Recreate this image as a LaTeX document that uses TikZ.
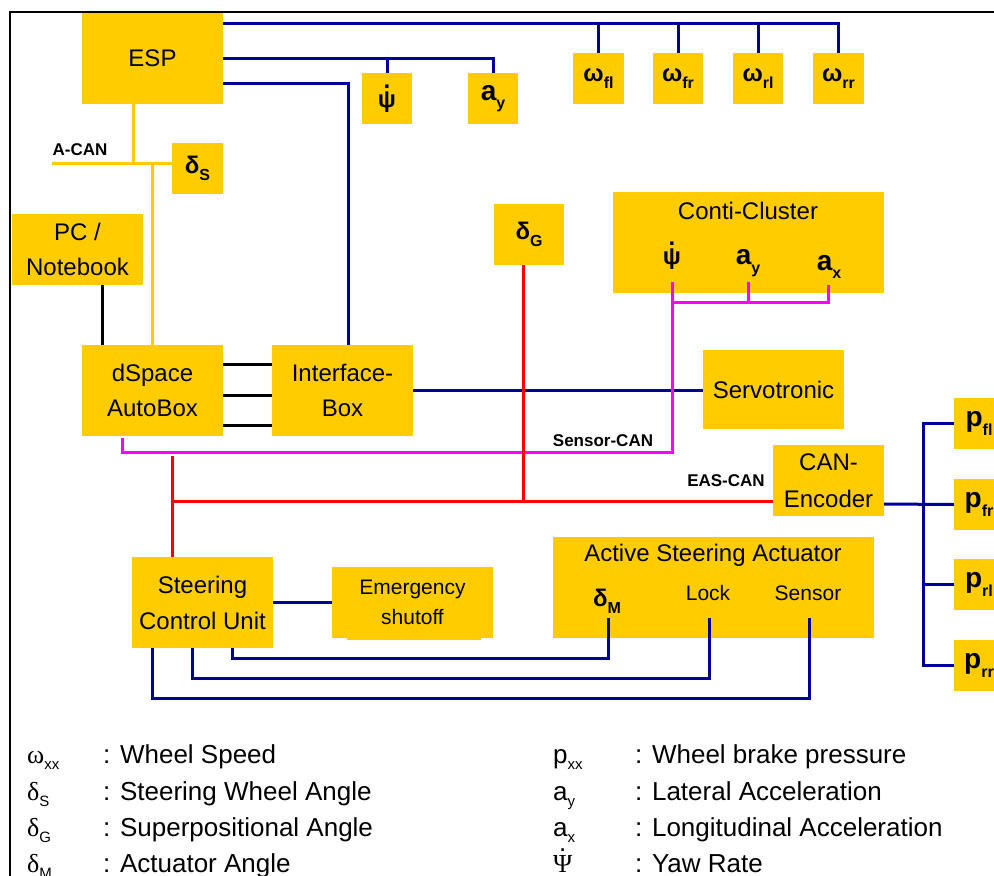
\documentclass[tikz,border=0pt]{standalone}
\usepackage{fontspec}
\setmainfont{Liberation Sans}
\newfontfamily\grserif{Liberation Serif}
\usetikzlibrary{calc}
\definecolor{ybox}{HTML}{FFCC00}
\definecolor{navy}{HTML}{000099}
\definecolor{magc}{HTML}{FF00FF}
\definecolor{redc}{HTML}{FF0000}
\newcommand{\withdot}[1]{\leavevmode\setbox0=\hbox{#1}\rlap{\hbox to\wd0{\hss\raisebox{\dimexpr\ht0+3pt\relax}{.}\hss}}\box0}
\newcommand{\lsub}[1]{\raisebox{-0.3em}{\fontsize{16}{16}\selectfont #1}}
\newcommand{\lsubl}[1]{\raisebox{-0.25em}{\fontsize{15}{15}\selectfont #1}}
\tikzset{
  box/.style={fill=ybox, draw=none, inner sep=0pt, align=center, font=\fontsize{24}{35}\selectfont},
  sym/.style={box, font=\fontsize{24}{26}\selectfont\bfseries},
  symL/.style={box, font=\fontsize{28}{30}\selectfont\bfseries},
  lbl/.style={inner sep=0pt, align=center, font=\fontsize{24}{35}\selectfont},
  buslbl/.style={inner sep=0pt, font=\fontsize{17}{20}\selectfont\bfseries},
  leg/.style={inner sep=0pt, anchor=base west, font=\fontsize{26}{30}\selectfont},
  nline/.style={draw=navy, line width=3pt},
  rline/.style={draw=redc, line width=3pt},
  mline/.style={draw=magc, line width=3pt},
  yline/.style={draw=ybox, line width=3pt},
  kline/.style={draw=black, line width=3pt},
}
\begin{document}
\begin{tikzpicture}[x=1pt,y=-1pt]
\useasboundingbox (0,0) rectangle (994,876);
\clip (0,0) rectangle (994,876);
\fill[white] (0,0) rectangle (994,876);
\draw[line width=2.4pt] (10,890) -- (10,12) -- (1000,12);

% boxes
\node[box, minimum width=141pt, minimum height=91pt] (esp) at (152.5,58.5) {ESP};
\node[sym, minimum width=50pt, minimum height=51pt] (psiA) at (387,98.5) {\withdot{ψ}};
\node[symL, minimum width=50pt, minimum height=51pt] (ayA) at (493,98.5) {a\lsub{y}};
\node[sym, minimum width=51pt, minimum height=51pt] (wfl) at (598.5,78.5) {ω\lsub{fl}};
\node[sym, minimum width=50pt, minimum height=51pt] (wfr) at (678,78.5) {ω\lsub{fr}};
\node[sym, minimum width=50pt, minimum height=51pt] (wrl) at (758,78.5) {ω\lsub{rl}};
\node[sym, minimum width=51pt, minimum height=51pt] (wrr) at (838.5,78.5) {ω\lsub{rr}};
\node[sym, minimum width=51pt, minimum height=51pt] (dS) at (197.5,168.5) {δ\lsub{S}};
\node[box, minimum width=131pt, minimum height=71pt] (pc) at (77.5,249.5) {PC /\\Notebook};
\node[sym, minimum width=70pt, minimum height=61pt] (dG) at (529,234.5) {δ\lsub{G}};
\node[box, minimum width=271pt, minimum height=101pt] (conti) at (748.5,242.5) {};
\node[lbl] (contiT) at (748,211) {Conti-Cluster};
\node[lbl, font=\fontsize{24}{26}\selectfont\bfseries] (cpsi) at (672,256) {\withdot{ψ}};
\node[lbl, font=\fontsize{28}{30}\selectfont\bfseries] (cay) at (748,263) {a\lsub{y}};
\node[lbl, font=\fontsize{28}{30}\selectfont\bfseries] (cax) at (829,267) {a\lsub{x}};
\node[box, minimum width=141pt, minimum height=91pt] (dspace) at (152.5,390.5) {dSpace\\AutoBox};
\node[box, minimum width=141pt, minimum height=91pt] (iface) at (342.5,390.5) {Interface-\\Box};
\node[box, minimum width=141pt, minimum height=79pt] (servo) at (773.5,389.5) {Servotronic};
\node[box, minimum width=111pt, minimum height=71pt, font=\fontsize{24}{37}\selectfont] (canenc) at (828.5,480.5) {CAN-\\Encoder};
\node[symL, minimum width=50pt, minimum height=51pt] (pfl) at (979,423.5) {p\lsub{fl}};
\node[symL, minimum width=50pt, minimum height=51pt] (pfr) at (979,504.5) {p\lsub{fr}};
\node[symL, minimum width=50pt, minimum height=51pt] (prl) at (979,584.5) {p\lsub{rl}};
\node[symL, minimum width=50pt, minimum height=51pt] (prr) at (979,665.5) {p\lsub{rr}};
\node[box, minimum width=141pt, minimum height=91pt, font=\fontsize{24}{36}\selectfont] (scu) at (202.5,602.5) {Steering\\Control Unit};
\fill[ybox] (347,600) rectangle (481,640);
\node[box, minimum width=161pt, minimum height=71pt, font=\fontsize{21}{30}\selectfont] (emer) at (412.5,602.5) {Emergency\\shutoff};
\node[box, minimum width=321pt, minimum height=101pt] (asa) at (713.5,587.5) {};
\node[lbl] (asaT) at (713,555) {Active Steering Actuator};
\node[lbl, font=\fontsize{24}{26}\selectfont\bfseries] (dM) at (607,601) {δ\lsub{M}};
\node[lbl, font=\fontsize{21}{24}\selectfont] (lock) at (708,593) {Lock};
\node[lbl, font=\fontsize{21}{24}\selectfont] (sens) at (808,593) {Sensor};

% bus labels
\node[buslbl] (acan) at (80,150) {A-CAN};
\node[buslbl] (scan) at (603,441) {Sensor-CAN};
\node[buslbl] (ecan) at (726,481) {EAS-CAN};

% coordinates
\coordinate (tpsi) at (672,282);
\coordinate (tay) at (748,282);
\coordinate (tax) at (828,285);
\coordinate (sbus) at (672,452);
\coordinate (pbus) at (923,504);
\coordinate (tdm) at (608,618);
\coordinate (tlock) at (709,618);
\coordinate (tsens) at (809,618);

% yellow A-CAN
\draw[yline] (esp.south -| 133,0) -- (133,163);
\draw[yline] (52,163) -- (dS.west |- 0,163);
\draw[yline] (152,163) -- (dspace.north -| 152,0);

% black
\draw[kline] (pc.south -| 102,0) -- (dspace.north -| 102,0);
\draw[kline] (dspace.east |- 0,364) -- (iface.west |- 0,364);
\draw[kline] (dspace.east |- 0,395) -- (iface.west |- 0,395);
\draw[kline] (dspace.east |- 0,425) -- (iface.west |- 0,425);

% blue
\draw[nline] (esp.east |- 0,23) -| (wrr.north);
\draw[nline] (wfl.north) -- (wfl.north |- 0,23);
\draw[nline] (wfr.north) -- (wfr.north |- 0,23);
\draw[nline] (wrl.north) -- (wrl.north |- 0,23);
\draw[nline] (esp.east |- 0,58) -| (ayA.north);
\draw[nline] (psiA.north) -- (psiA.north |- 0,58);
\draw[nline] (esp.east |- 0,83) -| (iface.north -| 348,0);
\draw[nline] (iface.east |- 0,390) -- (servo.west |- 0,390);
\draw[nline] (canenc.east |- pbus) -- (pfr.west);
\draw[nline] (pfl.west) -| (pbus) |- (prr.west);
\draw[nline] (prl.west) -- (prl.west -| pbus);
\draw[nline] (scu.east) -- (emer.west);
\draw[nline] (tdm) -- ++(0,40) -| ([xshift=29.5pt]scu.south);
\draw[nline] (tlock) -- ++(0,60) -| ([xshift=-10.5pt]scu.south);
\draw[nline] (tsens) -- ++(0,80) -| ([xshift=-50.5pt]scu.south);

% magenta Sensor-CAN
\draw[mline] (tpsi) -- (sbus) -| ([xshift=-30.5pt,yshift=-2pt]dspace.south);
\draw[mline] (tpsi |- 0,302) -| (tax);
\draw[mline] (tay) -- (tay |- 0,302);

% red EAS-CAN
\draw[rline] (dG.south -| 523,0) -- (523,501);
\draw[rline] (172,456) -- (scu.north -| 172,0);
\draw[rline] (172,501) -- (canenc.west |- 0,501);

% legend
\node[leg] (l1s) at (27,763) {{\grserif ω}\lsubl{xx}};
\node[leg] (l1t) at (103,763) {: Wheel Speed};
\node[leg] (l2s) at (27,800) {{\grserif δ}\lsubl{S}};
\node[leg] (l2t) at (103,800) {: Steering Wheel Angle};
\node[leg] (l3s) at (27,836) {{\grserif δ}\lsubl{G}};
\node[leg] (l3t) at (103,836) {: Superpositional Angle};
\node[leg] (l4s) at (27,872) {{\grserif δ}\lsubl{M}};
\node[leg] (l4t) at (103,872) {: Actuator Angle};
\node[leg] (r1s) at (553,763) {p\lsubl{xx}};
\node[leg] (r1t) at (635,763) {: Wheel brake pressure};
\node[leg] (r2s) at (553,800) {a\lsubl{y}};
\node[leg] (r2t) at (635,800) {: Lateral Acceleration};
\node[leg] (r3s) at (553,836) {a\lsubl{x}};
\node[leg] (r3t) at (635,836) {: Longitudinal Acceleration};
\node[leg] (r4s) at (553,872) {\withdot{\grserif Ψ}};
\node[leg] (r4t) at (635,872) {: Yaw Rate};
\end{tikzpicture}
\end{document}
